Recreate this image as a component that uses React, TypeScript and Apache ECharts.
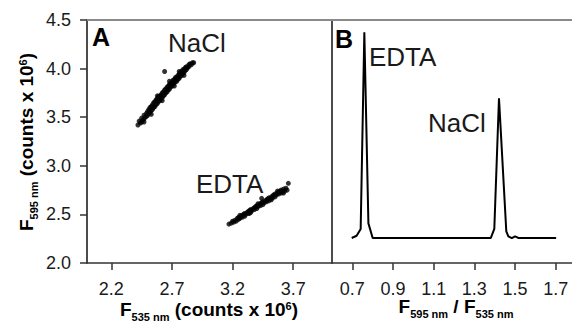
import React, { useEffect, useRef } from "react";
import * as echarts from "echarts";

// Panel A: F535 (x) vs F595 (y), counts x 10^6
const naclPoints: [number, number][] = [
  [2.42, 3.42], [2.43, 3.46], [2.44, 3.44], [2.45, 3.49], [2.45, 3.45], [2.46, 3.47], [2.47, 3.52], [2.47, 3.48],
  [2.48, 3.5], [2.49, 3.54], [2.49, 3.51], [2.5, 3.56], [2.5, 3.52], [2.51, 3.54], [2.51, 3.58], [2.52, 3.6],
  [2.52, 3.55], [2.53, 3.57], [2.53, 3.61], [2.54, 3.63], [2.54, 3.58], [2.55, 3.6], [2.55, 3.65], [2.56, 3.66],
  [2.56, 3.61], [2.57, 3.63], [2.57, 3.68], [2.58, 3.69], [2.58, 3.64], [2.59, 3.66], [2.59, 3.71], [2.6, 3.72],
  [2.6, 3.67], [2.61, 3.69], [2.61, 3.73], [2.62, 3.75], [2.62, 3.7], [2.63, 3.72], [2.63, 3.76], [2.64, 3.78],
  [2.64, 3.73], [2.65, 3.75], [2.65, 3.79], [2.66, 3.81], [2.66, 3.76], [2.67, 3.78], [2.67, 3.82], [2.68, 3.84],
  [2.68, 3.79], [2.69, 3.81], [2.69, 3.85], [2.7, 3.86], [2.7, 3.82], [2.71, 3.84], [2.71, 3.88], [2.72, 3.89],
  [2.72, 3.85], [2.73, 3.87], [2.73, 3.91], [2.74, 3.91], [2.74, 3.87], [2.75, 3.89], [2.75, 3.93], [2.76, 3.94],
  [2.76, 3.9], [2.77, 3.92], [2.77, 3.96], [2.78, 3.97], [2.78, 3.93], [2.79, 3.95], [2.79, 3.99], [2.8, 3.99],
  [2.8, 3.96], [2.81, 3.98], [2.81, 4.01], [2.82, 4.02], [2.82, 3.99], [2.83, 4.01], [2.84, 4.04], [2.84, 4.02],
  [2.85, 4.05], [2.86, 4.04], [2.87, 4.06], [2.88, 4.06], [2.64, 3.97],
  [2.47, 3.45], [2.53, 3.53], [2.58, 3.72], [2.62, 3.67], [2.68, 3.87], [2.72, 3.82], [2.76, 3.97], [2.8, 3.93],
];

const edtaPoints: [number, number][] = [
  [3.17, 2.4], [3.19, 2.41], [3.2, 2.43], [3.21, 2.42], [3.22, 2.44], [3.23, 2.43], [3.24, 2.46], [3.25, 2.45],
  [3.25, 2.47], [3.26, 2.46], [3.27, 2.48], [3.28, 2.47], [3.28, 2.49], [3.29, 2.5], [3.3, 2.48], [3.3, 2.51],
  [3.31, 2.5], [3.32, 2.52], [3.33, 2.51], [3.33, 2.53], [3.34, 2.54], [3.35, 2.52], [3.35, 2.55], [3.36, 2.54],
  [3.37, 2.56], [3.38, 2.55], [3.38, 2.57], [3.39, 2.58], [3.4, 2.56], [3.4, 2.59], [3.41, 2.58], [3.42, 2.6],
  [3.43, 2.59], [3.43, 2.61], [3.44, 2.62], [3.45, 2.6], [3.45, 2.63], [3.46, 2.62], [3.47, 2.64], [3.48, 2.63],
  [3.48, 2.65], [3.49, 2.66], [3.5, 2.64], [3.5, 2.67], [3.51, 2.66], [3.52, 2.68], [3.53, 2.67], [3.53, 2.69],
  [3.54, 2.7], [3.55, 2.68], [3.55, 2.71], [3.56, 2.7], [3.57, 2.72], [3.58, 2.71], [3.58, 2.73], [3.59, 2.74],
  [3.6, 2.72], [3.6, 2.75], [3.61, 2.73], [3.62, 2.76], [3.63, 2.74], [3.64, 2.77], [3.65, 2.75], [3.66, 2.82],
  [3.44, 2.665],
  [3.26, 2.49], [3.34, 2.51], [3.41, 2.61], [3.52, 2.65], [3.57, 2.74], [3.62, 2.72],
];

const xTicksA = [2.2, 2.7, 3.2, 3.7];

// Panel B: histogram of F595/F535 ratio (arbitrary frequency units)
const ratioCurve: [number, number][] = [
  [0.697, 10.3], [0.721, 11.2], [0.741, 14], [0.759, 95], [0.779, 16.3], [0.8, 10.3],
  [1.381, 10.3], [1.398, 14], [1.421, 67.8], [1.457, 13], [1.467, 11], [1.484, 10.2],
  [1.5, 11], [1.516, 10.3], [1.702, 10.3],
];

const xTicksB = [0.7, 0.9, 1.1, 1.3, 1.5, 1.7];

const FONT = "'Liberation Sans', Arial, Helvetica, sans-serif";
const TXT = "#1a1a1a";

export default function App() {
  const ref = useRef<HTMLDivElement>(null);
  useEffect(() => {
    if (!ref.current) return;
    const chart = echarts.init(ref.current, undefined, { renderer: "svg" });
    const titleRich = {
      f: { fontFamily: FONT, fontWeight: "bold", fontSize: 19, lineHeight: 22, verticalAlign: "top", color: TXT },
      s: { fontFamily: FONT, fontWeight: "bold", fontSize: 11, lineHeight: 12, verticalAlign: "bottom", color: TXT },
      p: { fontFamily: FONT, fontWeight: "bold", fontSize: 11, lineHeight: 9, verticalAlign: "top", color: TXT },
    };
    chart.setOption({
      animation: false,
      backgroundColor: "#ffffff",
      grid: [
        { left: 87, top: 20, width: 245, height: 243 },
        { left: 332, top: 20, width: 240, height: 243 },
      ],
      xAxis: [
        {
          gridIndex: 0, type: "value", min: 2, max: 4.02, position: "bottom",
          splitLine: { show: false },
          axisLine: { show: true, lineStyle: { color: "#333", width: 1.5 } },
          axisTick: { show: true, inside: false, length: 7, customValues: xTicksA, lineStyle: { color: "#333", width: 1.5 } },
          axisLabel: { customValues: xTicksA, fontSize: 18, fontFamily: FONT, color: TXT, margin: 17, formatter: (v: number) => v.toFixed(1) },
        },
        {
          gridIndex: 1, type: "value", min: 0.6, max: 1.78, position: "bottom",
          splitLine: { show: false },
          axisLine: { show: true, lineStyle: { color: "#333", width: 1.5 } },
          axisTick: { show: true, inside: false, length: 7, customValues: xTicksB, lineStyle: { color: "#333", width: 1.5 } },
          axisLabel: { customValues: xTicksB, fontSize: 18, fontFamily: FONT, color: TXT, margin: 17, formatter: (v: number) => v.toFixed(1) },
        },
        {
          gridIndex: 0, type: "value", min: 2, max: 4.02, position: "top",
          splitLine: { show: false }, axisTick: { show: false }, axisLabel: { show: false },
          axisLine: { show: true, lineStyle: { color: "#8a8a8a", width: 2 } },
        },
        {
          gridIndex: 1, type: "value", min: 0.6, max: 1.78, position: "top",
          splitLine: { show: false }, axisTick: { show: false }, axisLabel: { show: false },
          axisLine: { show: true, lineStyle: { color: "#8a8a8a", width: 2 } },
        },
      ],
      yAxis: [
        {
          gridIndex: 0, type: "value", min: 2, max: 4.5, interval: 0.5,
          splitLine: { show: false },
          axisLine: { show: true, lineStyle: { color: "#111", width: 1.5 } },
          axisTick: { show: true, inside: false, length: 7, lineStyle: { color: "#333", width: 1.5 } },
          axisLabel: { fontSize: 18, fontFamily: FONT, color: TXT, margin: 16, formatter: (v: number) => v.toFixed(1) },
        },
        {
          gridIndex: 1, type: "value", min: 0, max: 100,
          splitLine: { show: false },
          axisLine: { show: true, lineStyle: { color: "#111", width: 1.5 } },
          axisTick: { show: false }, axisLabel: { show: false },
        },
      ],
      series: [
        {
          type: "scatter", xAxisIndex: 0, yAxisIndex: 0, data: naclPoints,
          symbol: "circle", symbolSize: 5, itemStyle: { color: "#000" },
        },
        {
          type: "scatter", xAxisIndex: 0, yAxisIndex: 0, data: edtaPoints,
          symbol: "circle", symbolSize: 5, itemStyle: { color: "#000" },
        },
        {
          type: "line", xAxisIndex: 1, yAxisIndex: 1, data: ratioCurve,
          showSymbol: false, symbol: "none", lineStyle: { color: "#000", width: 2 },
        },
      ],
      graphic: [
        { type: "text", left: 92, top: 24, style: { text: "A", font: `bold 25px ${FONT}`, fill: "#000" } },
        { type: "text", left: 335, top: 26, style: { text: "B", font: `bold 25px ${FONT}`, fill: "#000" } },
        { type: "text", left: 168, top: 30, style: { text: "NaCl", font: `26px ${FONT}`, fill: TXT } },
        { type: "text", left: 196, top: 171, style: { text: "EDTA", font: `26px ${FONT}`, fill: TXT } },
        { type: "text", left: 369, top: 44, style: { text: "EDTA", font: `26px ${FONT}`, fill: TXT } },
        { type: "text", left: 428, top: 110, style: { text: "NaCl", font: `26px ${FONT}`, fill: TXT } },
        {
          type: "text", x: 209, y: 311,
          style: {
            text: "{f|F}{s|535 nm}{f| (counts x 10}{p|6}{f|)}", rich: titleRich,
            align: "center", verticalAlign: "middle",
          },
        },
        {
          type: "text", x: 456, y: 308,
          style: {
            text: "{f|F}{s|595 nm}{f| / F}{s|535 nm}", rich: titleRich,
            align: "center", verticalAlign: "middle",
          },
        },
        {
          type: "text", x: 28, y: 142, rotation: Math.PI / 2,
          style: {
            text: "{f|F}{s|595 nm}{f| (counts x 10}{p|6}{f|)}", rich: titleRich,
            align: "center", verticalAlign: "middle",
          },
        },
      ],
    });
    return () => chart.dispose();
  }, []);
  return <div ref={ref} style={{ width: 572, height: 324, position: "absolute", left: 0, top: 0 }} />;
}
